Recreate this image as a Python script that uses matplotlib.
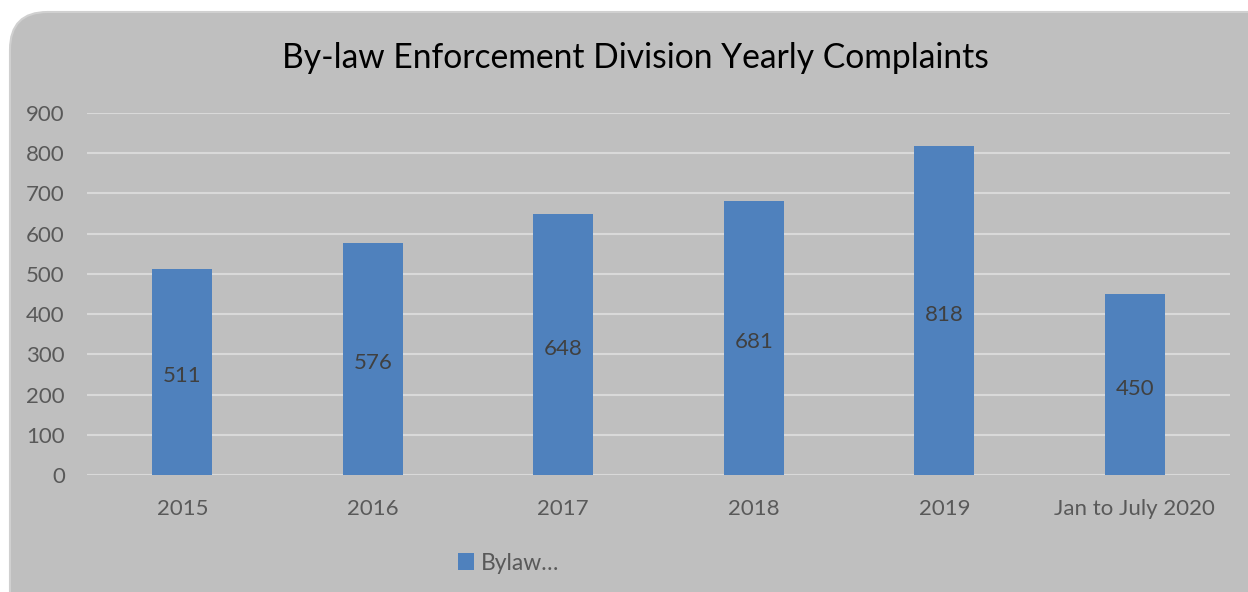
import matplotlib.pyplot as plt
from matplotlib.patches import FancyBboxPatch

categories = ['2015', '2016', '2017', '2018', '2019', 'Jan to July 2020']
complaints = [511, 576, 648, 681, 818, 450]
yticks = [0, 100, 200, 300, 400, 500, 600, 700, 800, 900]

bar_color = '#4f81bd'
panel_color = '#bfbfbf'
grid_color = '#d9d9d9'
text_color = '#595959'

plt.rcParams['font.family'] = ['Lato', 'DejaVu Sans']

W, H = 1248, 592
fig = plt.figure(figsize=(W / 100, H / 100), dpi=100)
fig.patch.set_facecolor('white')

# rounded grey panel behind the chart
panel = FancyBboxPatch((10 / W, -40 / H), 1300 / W, 620 / H,
                       boxstyle='round,pad=0,rounding_size=0.03',
                       transform=fig.transFigure, facecolor=panel_color,
                       edgecolor='#d0d0d0', linewidth=1.5, mutation_aspect=W / H,
                       zorder=-5)
fig.patches.append(panel)

ax = fig.add_axes([87 / W, 1 - 475 / H, (1230 - 87) / W, (475 - 113) / H])
ax.set_facecolor('none')

x = range(len(categories))
bars = ax.bar(x, complaints, width=0.315, color=bar_color, zorder=3,
              label='Bylaw…')

# value labels in the middle of each bar
for b, v in zip(bars, complaints):
    ax.annotate(str(v), (b.get_x() + b.get_width() / 2, v / 2),
                xytext=(0, -3), textcoords='offset points', ha='center',
                va='center', fontsize=16, color='#404040', zorder=4)

ax.set_xlim(-0.5, len(categories) - 0.5)
ax.set_ylim(0, 900)
ax.set_yticks(yticks)
ax.set_xticks(list(x))
ax.set_xticklabels(categories)
ax.yaxis.grid(True, color=grid_color, linewidth=1.5, zorder=0)
ax.tick_params(axis='both', length=0, labelsize=16, labelcolor=text_color)
ax.tick_params(axis='x', pad=17)
ax.tick_params(axis='y', pad=16)
for s in ax.spines.values():
    s.set_visible(False)

fig.text(635 / W, 1 - 58 / H, 'By-law Enforcement Division Yearly Complaints',
         ha='center', va='center', fontsize=24.2, color='black')

fig.legend(loc='center', bbox_to_anchor=(509 / W, 1 - 563 / H), frameon=False,
           fontsize=16.5, labelcolor=text_color, handlelength=0.7,
           handleheight=0.7, handletextpad=0.3)

fig.savefig('out.png', dpi=100)
